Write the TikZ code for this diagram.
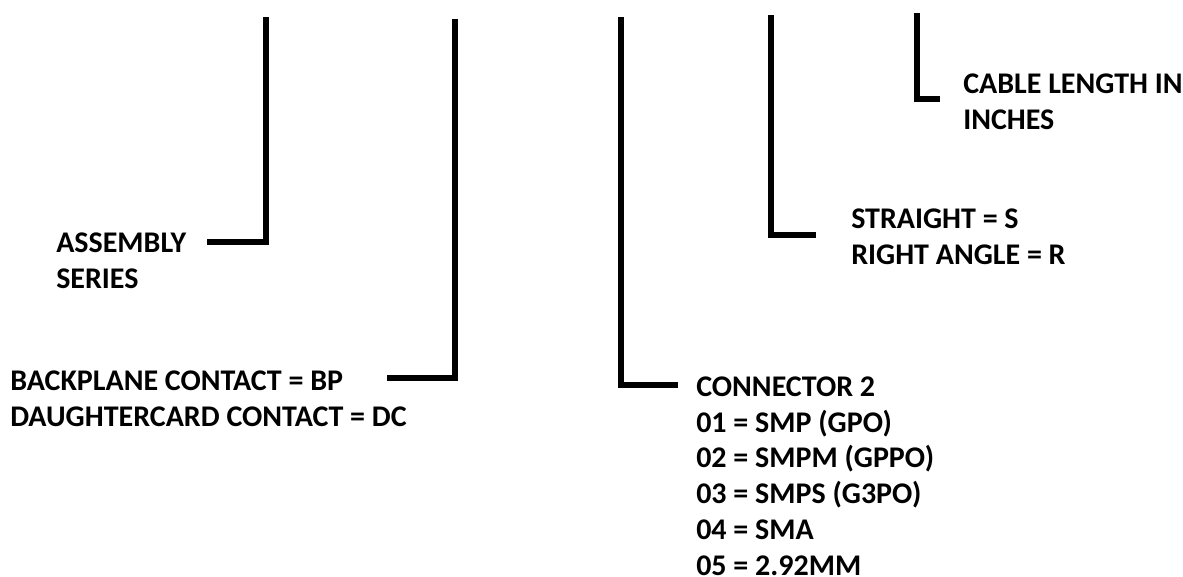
\documentclass[tikz,border=0pt]{standalone}
\usepackage{fontspec}
\setmainfont{Carlito}

\begin{document}
\begin{tikzpicture}[x=0.75pt,y=-0.75pt,
  lead/.style={line width=3.8pt,line join=miter},
  note/.style={font=\bfseries\fontsize{22.5}{26.8}\selectfont,align=left,inner sep=0pt,anchor=base west}]
  \useasboundingbox (0,0) rectangle (1183,576);
  % code fields (placed at the baseline of their last line)
  \node[note] (series) at (56,288) {ASSEMBLY\\SERIES};
  \node[note] (contact) at (10,426) {BACKPLANE CONTACT = BP\\DAUGHTERCARD CONTACT = DC};
  \node[note] (conn) at (696,575) {CONNECTOR 2\\01 = SMP (GPO)\\02 = SMPM (GPPO)\\03 = SMPS (G3PO)\\04 = SMA\\05 = 2.92MM};
  \node[note] (angle) at (851,264) {STRAIGHT = S\\RIGHT ANGLE = R};
  \node[note] (length) at (963,129) {CABLE LENGTH IN\\INCHES};
  % leader lines
  \coordinate (top1) at (266,17);   \coordinate (foot1) at (207,242);
  \coordinate (top2) at (455,19);   \coordinate (foot2) at (387,378);
  \coordinate (top3) at (621,17);   \coordinate (foot3) at (678,385);
  \coordinate (top4) at (771,15);   \coordinate (foot4) at (816,235);
  \coordinate (top5) at (917,13);   \coordinate (foot5) at (940,99);
  \foreach \i in {1,...,5} \draw[lead] (top\i) |- (foot\i);
\end{tikzpicture}
\end{document}
